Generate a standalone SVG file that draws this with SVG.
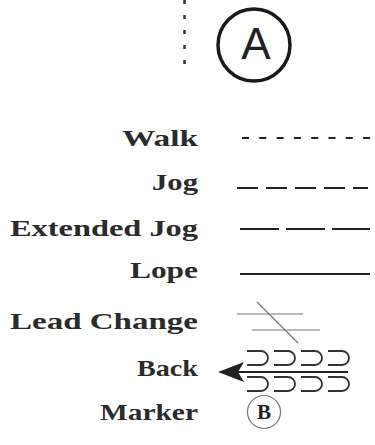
<svg xmlns="http://www.w3.org/2000/svg" width="375" height="445" viewBox="0 0 375 445">
<style>
.lbl{font-family:"Liberation Serif","DejaVu Serif",serif;font-weight:bold;font-size:23px;fill:#2b2b2b;text-anchor:end}
.ln{stroke:#222;stroke-width:2;fill:none}
.thin{stroke:#777;stroke-width:1.2;fill:none}
.loop{stroke:#333;stroke-width:1.8;fill:none}
</style>
<defs>
<path id="lp" d="M0,0 H14 A7,7 0 0 1 14,14 H0"/>
</defs>
<rect width="375" height="445" fill="#fff"/>
<g id="top">
<line x1="184.5" y1="0" x2="184.5" y2="66" stroke="#333" stroke-width="2.5" stroke-dasharray="4 11"/>
<circle cx="254" cy="45" r="36" fill="none" stroke="#1a1a1a" stroke-width="3.5"/>
<text x="256" y="59" font-family="Liberation Sans, sans-serif" font-size="44" fill="#222" text-anchor="middle">A</text>
</g>
<g id="walk">
<text class="lbl" x="198" y="146" textLength="76" lengthAdjust="spacingAndGlyphs">Walk</text>
<line class="ln" x1="242" y1="138" x2="372" y2="138" stroke-dasharray="7 10.3"/>
</g>
<g id="jog">
<text class="lbl" x="198" y="190" textLength="46" lengthAdjust="spacingAndGlyphs">Jog</text>
<line class="ln" x1="237" y1="188" x2="368" y2="188" stroke-dasharray="21 8"/>
</g>
<g id="extended-jog">
<text class="lbl" x="198" y="236" textLength="188" lengthAdjust="spacingAndGlyphs">Extended Jog</text>
<line class="ln" x1="240" y1="229" x2="370" y2="229" stroke-dasharray="39 7"/>
</g>
<g id="lope">
<text class="lbl" x="198" y="278" textLength="68" lengthAdjust="spacingAndGlyphs">Lope</text>
<line class="ln" x1="240" y1="274" x2="370" y2="274" stroke-width="1.8"/>
</g>
<g id="lead-change">
<text class="lbl" x="198" y="329" textLength="188" lengthAdjust="spacingAndGlyphs">Lead Change</text>
<line class="thin" x1="237" y1="314" x2="303" y2="314"/>
<line class="thin" x1="252" y1="330" x2="320" y2="330"/>
<line class="thin" x1="257" y1="302" x2="298" y2="343"/>
</g>
<g id="back">
<text class="lbl" x="198" y="376" textLength="61" lengthAdjust="spacingAndGlyphs">Back</text>
<line class="ln" x1="238" y1="372" x2="348" y2="372"/>
<polygon points="218,372 244,362 238,372 244,382" fill="#222"/>
<use href="#lp" class="loop" x="247" y="351"/>
<use href="#lp" class="loop" x="274" y="351"/>
<use href="#lp" class="loop" x="301" y="351"/>
<use href="#lp" class="loop" x="328" y="351"/>
<use href="#lp" class="loop" x="247" y="377"/>
<use href="#lp" class="loop" x="274" y="377"/>
<use href="#lp" class="loop" x="301" y="377"/>
<use href="#lp" class="loop" x="328" y="377"/>
</g>
<g id="marker">
<text class="lbl" x="198" y="420" textLength="98" lengthAdjust="spacingAndGlyphs">Marker</text>
<circle cx="264" cy="412" r="16.5" fill="none" stroke="#777" stroke-width="1.2"/>
<text x="264" y="419" font-family="Liberation Serif, serif" font-weight="bold" font-size="21" fill="#222" text-anchor="middle">B</text>
</g>
</svg>
